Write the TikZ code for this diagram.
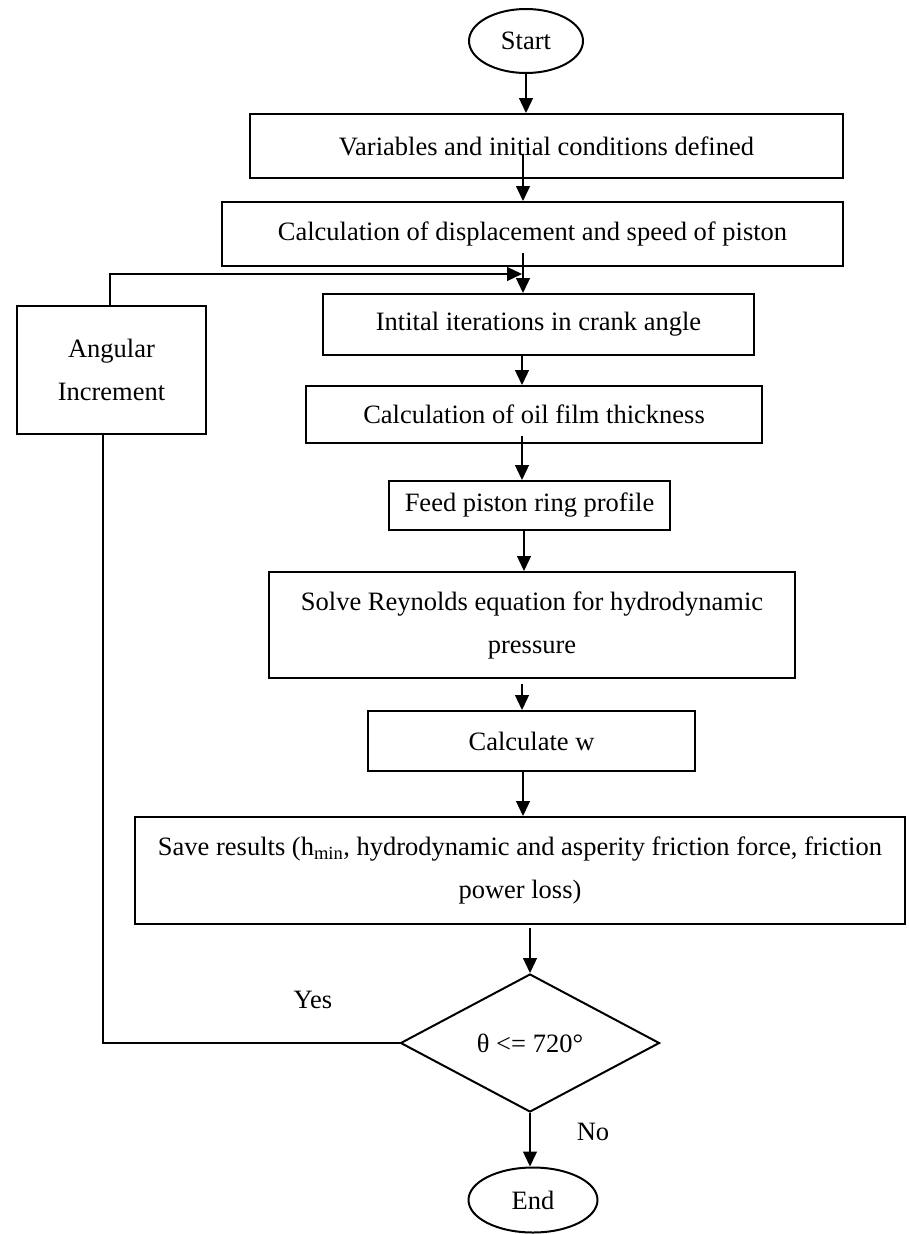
\documentclass[tikz,border=0pt]{standalone}
\usepackage{fontspec}
\setmainfont{Liberation Serif}
\usetikzlibrary{shapes.geometric,arrows.meta,calc}
\begin{document}
\begin{tikzpicture}[x=1pt,y=-1pt,
  font=\fontsize{26.5}{43}\selectfont,
  box/.style={draw, line width=2pt, inner sep=0pt, align=center},
  term/.style={ellipse, draw, line width=2pt, inner sep=0pt},
  decide/.style={diamond, draw, line width=2pt, inner sep=0pt, aspect=1.88},
  conn/.style={line width=1.3pt},
  arr/.style={conn, -{Triangle[length=15pt,width=14pt]}},
  lbl/.style={inner sep=0pt}]
\useasboundingbox (0,0) rectangle (908,1234);

\node[term, minimum width=114pt, minimum height=64pt] (start) at (526,41) {Start};
\node[box, minimum width=593pt, minimum height=64pt] (var) at (546.5,146) {Variables and initial conditions defined};
\node[box, minimum width=621pt, minimum height=64pt] (disp) at (532.5,234) {Calculation of displacement and speed of piston};
\node[box, minimum width=431pt, minimum height=61pt] (init) at (538.5,324.5) {Intital iterations in crank angle};
\node[box, minimum width=456pt, minimum height=57pt] (oil) at (534,414.5) {Calculation of oil film thickness};
\node[box, minimum width=281pt, minimum height=49pt] (feed) at (529.5,505.5) {Feed piston ring profile};
\node[box, minimum width=526pt, minimum height=106pt] (solve) at (532,625) {Solve Reynolds equation for hydrodynamic\\pressure};
\node[box, minimum width=327pt, minimum height=60pt] (calc) at (531.5,741) {Calculate w};
\node[box, minimum width=770pt, minimum height=107pt] (save) at (520,870.5) {Save results (h\textsubscript{min}, hydrodynamic and asperity friction force, friction\\power loss)};
\node[decide, minimum width=259pt, minimum height=138pt] (dia) at (530,1043) {θ <= 720°};
\node[term, minimum width=129pt, minimum height=65pt] (end) at (533,1200) {End};
\node[box, minimum width=189pt, minimum height=128pt] (ang) at (111.5,370) {Angular\\Increment};

\node[lbl] (yes) at (313,1000) {Yes};
\node[lbl] (no) at (593,1132) {No};

\draw[arr] (start.south) -- (start.south |- var.north);
\draw[arr] ([xshift=-23.5pt,yshift=25pt]var.south) -- ([xshift=-23.5pt]var.south |- disp.north);
\draw[arr] ([xshift=-9.5pt,yshift=14pt]disp.south) -- ([xshift=-9.5pt]disp.south |- init.north);
\draw[arr] ([xshift=-16.5pt]init.south) -- ([xshift=-16.5pt]init.south |- oil.north);
\draw[arr] ([xshift=-12pt,yshift=8pt]oil.south) -- ([xshift=-12pt]oil.south |- feed.north);
\draw[arr] ([xshift=-5.5pt]feed.south) -- ([xshift=-5.5pt]feed.south |- solve.north);
\draw[arr] ([xshift=-10pt,yshift=-5pt]solve.south) -- ([xshift=-10pt]solve.south |- calc.north);
\draw[arr] ([xshift=-8.5pt]calc.south) -- ([xshift=-8.5pt]calc.south |- save.north);
\draw[arr] ([xshift=10pt,yshift=-3pt]save.south) -- ([xshift=10pt]save.south |- dia.north);
\draw[arr] (dia.south) -- (dia.south |- end.north);

\coordinate (loopin) at (522,274);
\draw[arr] ([xshift=-1.5pt]ang.north) |- (loopin);
\draw[conn] (dia.west) -| ([xshift=-8.5pt]ang.south);
\end{tikzpicture}
\end{document}
